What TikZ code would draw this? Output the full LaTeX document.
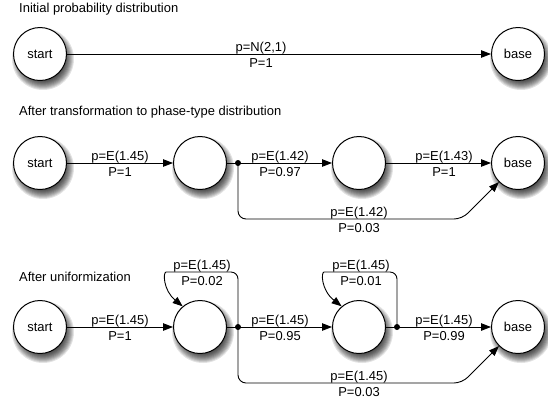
\documentclass[tikz,border=0pt]{standalone}
\usepackage{fontspec}
\setmainfont{Liberation Sans}
\usetikzlibrary{arrows.meta}
\pgfdeclarelayer{bg}
\pgfsetlayers{bg,main}
\begin{document}
\begin{tikzpicture}[x=1bp,y=-1bp,
  every node/.style={font=\fontsize{13}{15}\selectfont},
  state/.style={circle,draw,line width=1bp,fill=white,minimum size=53bp,inner sep=0pt},
  conn/.style={line width=0.9bp},
  arr/.style={conn,-{Triangle[length=10bp,width=7.5bp]}},
  dotn/.style={circle,fill=black,inner sep=0pt,minimum size=6bp},
  labup/.style={anchor=base,inner sep=0pt,yshift=3bp},
  labdn/.style={anchor=north,inner sep=0pt,yshift=-4bp},
  title/.style={anchor=mid west,inner sep=0pt}]
\useasboundingbox (0,0) rectangle (548,405);

% titles
\node[title] (t1) at (19,10) {Initial probability distribution};
\node[title] (t2) at (19,113) {After transformation to phase-type distribution};
\node[title] (t3) at (19,279) {After uniformization};

% row 1
\node[state] (s1) at (40,54) {start};
\node[state] (b1) at (518,54) {base};
\draw[arr] (s1) -- (b1);
\node[labup] (l1a) at (261,54) {p=N(2,1)};
\node[labdn] (l1b) at (261,54) {P=1};

% row 2
\node[state] (s2) at (40,163) {start};
\node[state] (a2) at (200,163) {};
\node[state] (c2) at (359,163) {};
\node[state] (b2) at (518,163) {base};
\coordinate (d2c) at (238,163);
\draw[arr] (s2) -- (a2);
\draw[arr] (a2) -- (c2);
\draw[arr] (c2) -- (b2);
\draw[arr,rounded corners=8bp] (d2c) -- (238,219) -- (462,219) -- (b2.225);
\node[dotn] (d2) at (d2c) {};
\node[labup] (l2a) at (120,163) {p=E(1.45)};
\node[labdn] (l2b) at (120,163) {P=1};
\node[labup] (l2c) at (280,163) {p=E(1.42)};
\node[labdn] (l2d) at (280,163) {P=0.97};
\node[labup] (l2e) at (444,163) {p=E(1.43)};
\node[labdn] (l2f) at (444,163) {P=1};
\node[labup] (l2g) at (359,219) {p=E(1.42)};
\node[labdn] (l2h) at (359,219) {P=0.03};

% row 3
\node[state] (s3) at (40,327) {start};
\node[state] (a3) at (200,327) {};
\node[state] (c3) at (359,327) {};
\node[state] (b3) at (518,327) {base};
\coordinate (d3ac) at (238,327);
\coordinate (d3bc) at (397,327);
\draw[arr] (s3) -- (a3);
\draw[arr] (a3) -- (c3);
\draw[arr] (c3) -- (b3);
\draw[arr,rounded corners=8bp] (d3ac) -- (238,383) -- (462,383) -- (b3.225);
\draw[arr] (d3ac) [rounded corners=7bp] -- (238,272) -- (173,272) [sharp corners] .. controls (163,272) and (163,290) .. (a3.130);
\draw[arr] (d3bc) [rounded corners=7bp] -- (397,272) -- (331,272) [sharp corners] .. controls (321,272) and (321,290) .. (c3.130);
\node[dotn] (d3a) at (d3ac) {};
\node[dotn] (d3b) at (d3bc) {};
\node[labup] (l3a) at (120,327) {p=E(1.45)};
\node[labdn] (l3b) at (120,327) {P=1};
\node[labup] (l3c) at (280,327) {p=E(1.45)};
\node[labdn] (l3d) at (280,327) {P=0.95};
\node[labup] (l3e) at (444,327) {p=E(1.45)};
\node[labdn] (l3f) at (444,327) {P=0.99};
\node[labup] (l3g) at (359,383) {p=E(1.45)};
\node[labdn] (l3h) at (359,383) {P=0.03};
\node[labup] (l3i) at (202,272) {p=E(1.45)};
\node[labdn] (l3j) at (202,272) {P=0.02};
\node[labup] (l3k) at (361,272) {p=E(1.45)};
\node[labdn] (l3l) at (361,272) {P=0.01};

% soft shadows
\begin{pgfonlayer}{bg}
\foreach \n in {s1,b1,s2,a2,c2,b2,s3,a3,c3,b3} {
  \foreach \r in {22,23,...,31} {
    \fill[black,opacity=0.11] ([xshift=3bp,yshift=-5bp]\n.center) circle (\r bp);
  }
}
\end{pgfonlayer}
\end{tikzpicture}
\end{document}
